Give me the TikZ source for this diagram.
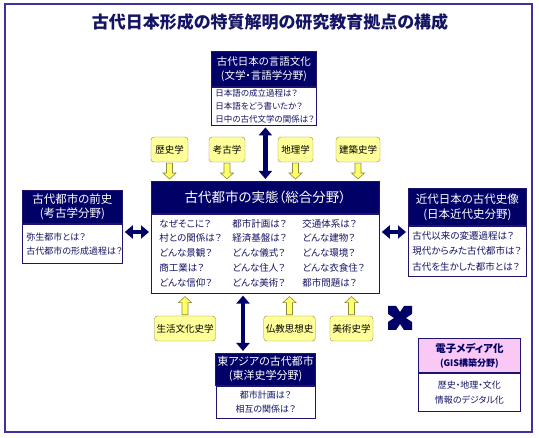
\documentclass[tikz,border=0pt]{standalone}
\usepackage{fontspec}
\setmainfont{Noto Sans CJK JP}[RawFeature=+palt]
\usetikzlibrary{arrows.meta,positioning,calc}
\definecolor{NavyHead}{RGB}{0,0,102}
\definecolor{NavyText}{RGB}{20,20,100}
\definecolor{FrameBlue}{RGB}{60,50,160}
\definecolor{BoxLine}{RGB}{30,20,110}
\definecolor{PaleYellow}{RGB}{255,255,153}
\definecolor{ArrowYellow}{RGB}{255,255,102}
\definecolor{OliveLine}{RGB}{140,140,60}
\definecolor{MediaPink}{RGB}{250,200,245}

\begin{document}
\begin{tikzpicture}[x=1pt,y=-1pt,
    hdr/.style={draw=BoxLine,fill=NavyHead,text=white,align=center,
                inner sep=2pt,anchor=north west,line width=0.8pt},
    sbody/.style={draw=BoxLine,fill=white,text=NavyText,align=left,
                  inner xsep=4pt,inner ysep=2pt,line width=0.8pt,
                  font=\fontsize{9}{13.5}\selectfont},
    ybox/.style={draw=OliveLine,fill=PaleYellow,rounded corners=3pt,
                 minimum height=25pt,inner xsep=2pt,
                 font=\fontsize{9.5}{11}\selectfont,text=black},
    yarrow/.style={draw=OliveLine,fill=ArrowYellow,line width=0.6pt,line join=miter},
    dblarrow/.style={{Triangle[length=8pt,width=13pt]}-{Triangle[length=8pt,width=13pt]},
                     line width=4.5pt,NavyHead,shorten >=2pt,shorten <=2pt}]

    \useasboundingbox (0,0) rectangle (539,438);
    \draw[FrameBlue,line width=1.5pt] (5,4) rectangle (532,432);

    \node[font=\fontsize{17}{20}\selectfont\bfseries,text=NavyText] (title) at (270,22)
      {古代日本形成の特質解明の研究教育拠点の構成};

    % centre box
    \node[hdr,minimum width=228pt,minimum height=32pt,
          font=\fontsize{13.5}{16}\selectfont] (jitai) at (151,181)
          {古代都市の実態（総合分野）};
    \node[sbody,minimum width=228pt,minimum height=79pt,text width=212pt,
          inner xsep=8pt,font=\fontsize{9.5}{14.8}\selectfont,below=0pt of jitai] (jitaib)
          {\begin{tabular}{@{}p{73pt}@{}p{70pt}@{}l@{}}
           なぜそこに？ & 都市計画は？ & 交通体系は？\\
           村との関係は？ & 経済基盤は？ & どんな建物？\\
           どんな景観？ & どんな儀式？ & どんな環境？\\
           商工業は？ & どんな住人？ & どんな衣食住？\\
           どんな信仰？ & どんな美術？ & 都市問題は？
           \end{tabular}};

    % outer boxes
    \node[hdr,minimum width=105pt,minimum height=35pt,
          font=\fontsize{10.5}{14}\selectfont] (lang) at (211,51)
          {古代日本の言語文化\\(文学・言語学分野)};
    \node[sbody,minimum width=105pt,minimum height=37pt,text width=97pt,
          font=\fontsize{8.5}{13}\selectfont,below=0pt of lang] (langb)
          {日本語の成立過程は？\\日本語をどう書いたか？\\日中の古代文学の関係は？};

    \node[hdr,minimum width=100pt,minimum height=33pt,
          font=\fontsize{11.5}{14}\selectfont] (zen) at (22,190)
          {古代都市の前史\\(考古学分野)};
    \node[sbody,minimum width=100pt,minimum height=39pt,text width=92pt,
          font=\fontsize{9}{14}\selectfont,below=0pt of zen] (zenb)
          {弥生都市とは？\\古代都市の形成過程は？};

    \node[hdr,minimum width=118pt,minimum height=37pt,
          font=\fontsize{11.5}{15}\selectfont] (kin) at (408,188)
          {近代日本の古代史像\\(日本近代史分野)};
    \node[sbody,minimum width=118pt,minimum height=50pt,text width=110pt,
          font=\fontsize{9.5}{15.5}\selectfont,below=0pt of kin] (kinb)
          {古代以来の変遷過程は？\\現代からみた古代都市は？\\古代を生かした都市とは？};

    \node[hdr,minimum width=99pt,minimum height=32pt,
          font=\fontsize{11}{14}\selectfont] (asia) at (215,353)
          {東アジアの古代都市\\(東洋史学分野)};
    \node[sbody,minimum width=99pt,minimum height=32pt,text width=91pt,align=center,
          font=\fontsize{9}{14}\selectfont,below=0pt of asia] (asiab)
          {都市計画は？\\相互の関係は？};

    \node[hdr,fill=MediaPink,text=NavyHead,minimum width=102pt,minimum height=34pt,
          font=\fontsize{10.5}{14}\selectfont\bfseries] (media) at (418,338)
          {電子メディア化\\{\fontsize{9}{12}\selectfont(GIS構築分野)}};
    \node[sbody,minimum width=102pt,minimum height=38pt,text width=94pt,align=center,
          font=\fontsize{9}{15}\selectfont,below=0pt of media] (mediab)
          {歴史・地理・文化\\情報のデジタル化};

    % neighbouring fields
    \node[ybox,minimum width=37pt] (hist)  at (169.5,149.5) {歴史学};
    \node[ybox,minimum width=36pt] (arch)  at (227,149.5)   {考古学};
    \node[ybox,minimum width=35pt] (geo)   at (295.5,149.5) {地理学};
    \node[ybox,minimum width=44pt] (build) at (358,149.5)   {建築史学};
    \node[ybox,minimum width=60pt] (life)  at (185,328.5)   {生活文化史学};
    \node[ybox,minimum width=51pt] (budd)  at (289.5,328.5) {仏教思想史};
    \node[ybox,minimum width=43pt] (art)   at (351.5,328.5) {美術史学};

    \foreach \f in {hist,arch,geo,build} {
      \coordinate (s) at ($(\f.south)+(0,1)$);
      \coordinate (t) at ($(\f.south |- jitai.north)+(0,-2)$);
      \draw[yarrow] ($(s)+(-3,0)$) -- ($(t)+(-3,-6)$) -- ($(t)+(-6.5,-6)$) -- (t)
        -- ($(t)+(6.5,-6)$) -- ($(t)+(3,-6)$) -- ($(s)+(3,0)$) -- cycle;
    }
    \foreach \f in {life,budd,art} {
      \coordinate (s) at ($(\f.north)+(0,-1)$);
      \coordinate (t) at ($(\f.north |- jitaib.south)+(0,3)$);
      \draw[yarrow] ($(s)+(-3,0)$) -- ($(t)+(-3,6)$) -- ($(t)+(-6.5,6)$) -- (t)
        -- ($(t)+(6.5,6)$) -- ($(t)+(3,6)$) -- ($(s)+(3,0)$) -- cycle;
    }

    % links to the centre
    \coordinate (ax) at (243,0);
    \coordinate (ay) at (0,232);
    \draw[dblarrow] (langb.south -| jitai.north) -- (jitai.north);
    \draw[dblarrow] (jitaib.south -| ax) -- (asia.north -| ax);
    \draw[dblarrow] (zenb.east |- ay) -- (jitaib.west |- ay);
    \draw[dblarrow] (jitaib.east |- ay) -- (kinb.west |- ay);

    % move mark
    \coordinate (mv) at (400,318);
    \fill[NavyHead,shift={(mv)}] (-12,-12) -- (-4,-12) -- (0,-6) -- (4,-12) -- (12,-12)
      -- (12,-4) -- (6,0) -- (12,4) -- (12,12) -- (4,12) -- (0,6) -- (-4,12)
      -- (-12,12) -- (-12,4) -- (-6,0) -- (-12,-4) -- cycle;
\end{tikzpicture}
\end{document}
